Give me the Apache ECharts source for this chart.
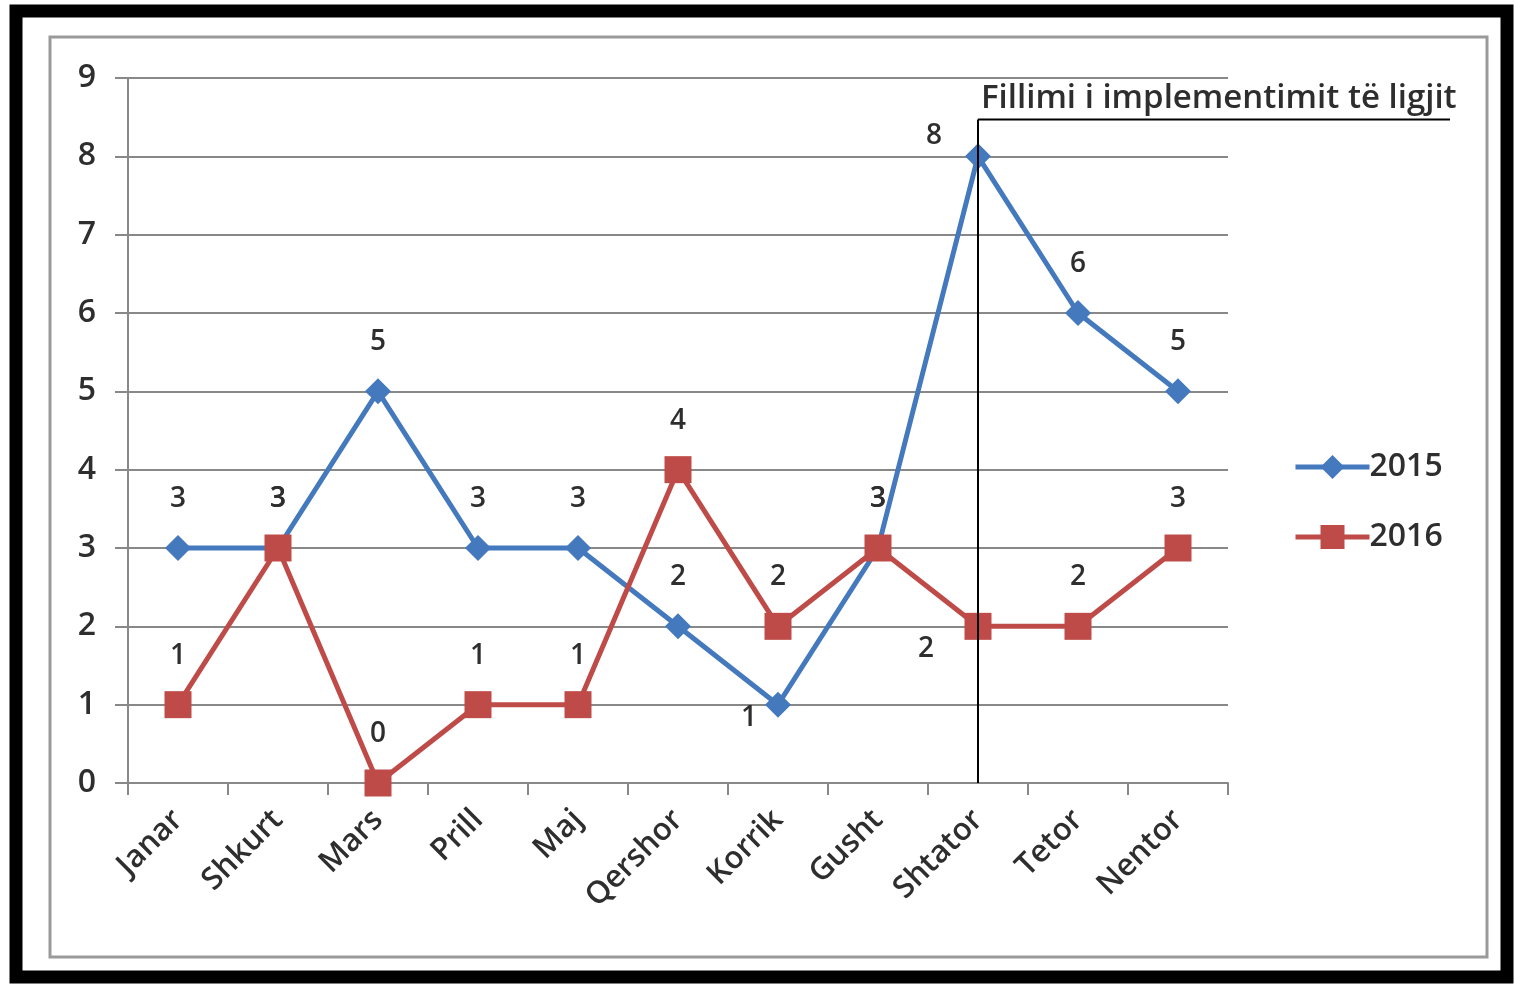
<!DOCTYPE html>
<html>
<head>
<meta charset="utf-8">
<script src="https://cdn.jsdelivr.net/npm/echarts@6/dist/echarts.min.js"></script>
<style>
html,body{margin:0;padding:0;background:#fff;}
#c{width:1514px;height:984px;}
</style>
</head>
<body>
<div id="c"></div>
<script>
const categories = ['Janar','Shkurt','Mars','Prill','Maj','Qershor','Korrik','Gusht','Shtator','Tetor','Nentor'];
const values2015 = [3,3,5,3,3,2,1,3,8,6,5];
const values2016 = [1,3,0,1,1,4,2,3,2,2,3];
const seriesNames = ['2015','2016'];
const yTicks = [0,1,2,3,4,5,6,7,8,9];
const annotationText = 'Fillimi i implementimit të ligjit';
const annotationCategory = 'Shtator';
const annotationTop = 8.47;

const FONT = '"Open Sans", sans-serif';
const TXT = '#2e2e2e';
const GRID = '#888888';
const BLUE = '#4479bd';
const RED = '#be4b48';

// label offsets (style) per point
const off2015 = {6:[-29,13], 8:[-44,-20]};
const off2016 = {8:[-52,23]};

function mkData(vals, offs){
  return vals.map((v,i)=>{
    const o = offs[i] || [0,-49];
    return {value:v, label:{offset:o}};
  });
}

const chart = echarts.init(document.getElementById('c'), null, {renderer:'canvas'});
const option = {
  backgroundColor:'#fff',
  animation:false,
  grid:{left:128, right:286, top:78, bottom:201, containLabel:false},
  legend:{
    orient:'vertical', left:1288, top:446,
    itemWidth:74, itemHeight:30, itemGap:38,
    lineStyle:{width:5},
    textStyle:{fontFamily:FONT, fontSize:32, fontWeight:600, color:TXT, padding:[0,0,0,-5]},
    data:seriesNames
  },
  xAxis:{
    type:'category', data:categories, boundaryGap:true,
    axisLine:{lineStyle:{color:GRID, width:2}},
    axisTick:{show:true, length:12, lineStyle:{color:GRID, width:2}},
    axisLabel:{rotate:45, fontFamily:FONT, fontSize:31, fontWeight:600, color:TXT, margin:32}
  },
  yAxis:{
    type:'value', min:0, max:9, interval:1,
    axisLine:{show:true, lineStyle:{color:GRID, width:2}},
    axisTick:{show:true, length:13, lineStyle:{color:GRID, width:2}},
    splitLine:{show:true, lineStyle:{color:GRID, width:2}},
    axisLabel:{fontFamily:FONT, fontSize:32, fontWeight:600, color:TXT, margin:32,
      formatter:(v)=> yTicks.includes(v) ? String(v) : ''}
  },
  series:[
    {
      name:seriesNames[0], type:'line', data:mkData(values2015, off2015),
      symbol:'diamond', symbolSize:26,
      lineStyle:{color:BLUE, width:5},
      itemStyle:{color:BLUE},
      label:{show:true, position:'inside', fontFamily:FONT, fontSize:28, fontWeight:600, color:TXT},
      markLine:{
        silent:true, symbol:'none',
        lineStyle:{color:'#000', width:2, type:'solid'},
        label:{show:false},
        data:[[{coord:[annotationCategory,0]},{coord:[annotationCategory,annotationTop]}]]
      },
      z:3
    },
    {
      name:seriesNames[1], type:'line', data:mkData(values2016, off2016),
      symbol:'rect', symbolSize:27,
      lineStyle:{color:RED, width:5},
      itemStyle:{color:RED},
      label:{show:true, position:'inside', fontFamily:FONT, fontSize:28, fontWeight:600, color:TXT},
      z:4
    }
  ]
};
chart.setOption(option);

const p = chart.convertToPixel({gridIndex:0}, [annotationCategory, annotationTop]);
chart.setOption({
  graphic:[
    {type:'rect', shape:{x:16, y:11, width:1491, height:966}, style:{fill:null, stroke:'#000', lineWidth:13}, z:-1, silent:true},
    {type:'rect', shape:{x:50, y:37, width:1437, height:920}, style:{fill:null, stroke:'#9a9a9a', lineWidth:3}, z:-1, silent:true},
    {type:'line', shape:{x1:p[0], y1:p[1], x2:1450, y2:p[1]}, style:{stroke:'#000', lineWidth:2}, z:10},
    {type:'text', x:p[0]+3, y:p[1]-4, style:{text:annotationText, fontFamily:FONT, fontSize:33, fontWeight:600, fill:TXT, textVerticalAlign:'bottom', textAlign:'left'}, z:10}
  ]
});
</script>
</body>
</html>
